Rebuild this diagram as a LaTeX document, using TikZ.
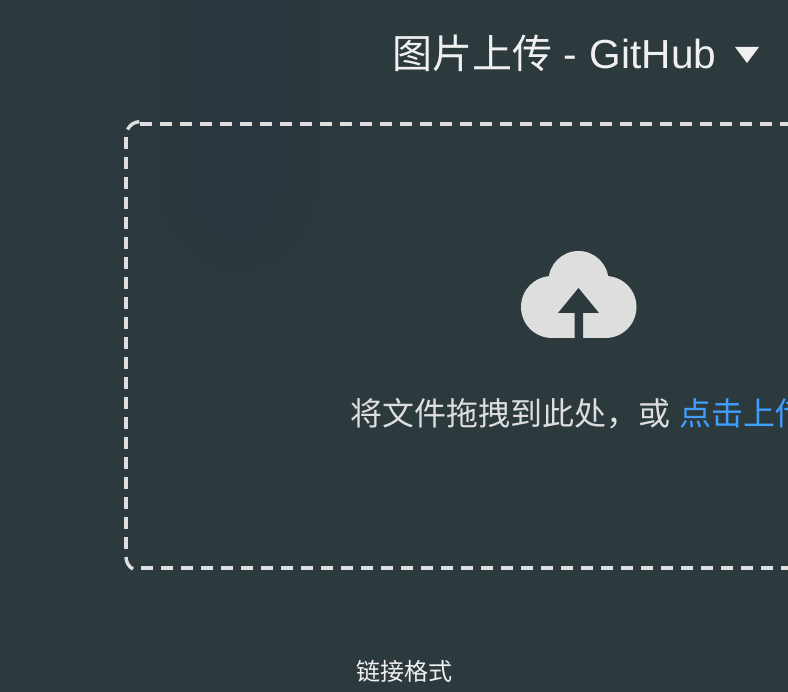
\documentclass[tikz,border=0pt]{standalone}
\usepackage{fontspec}
\setmainfont{Liberation Sans}
\newfontfamily\cjk{Noto Sans CJK SC}
\definecolor{panel}{HTML}{2C3A3D}
\definecolor{shade}{HTML}{2A363D}
\definecolor{ink}{HTML}{F0F0F0}
\definecolor{frame}{HTML}{DEDEDE}
\definecolor{link}{HTML}{409EFF}

\begin{document}
\begin{tikzpicture}[
  x=1pt,y=1pt,
  title/.style={anchor=base west,text=ink,inner sep=0pt,font=\fontsize{40.6}{44}\selectfont},
  hint/.style={anchor=base west,text=frame,inner sep=0pt,font=\cjk\fontsize{32}{36}\selectfont},
  caption/.style={anchor=base,text=ink,inner sep=0pt,font=\cjk\fontsize{24}{28}\selectfont},
  edge/.style={draw=frame,line width=3.4pt,dash pattern=on 12pt off 8pt},
  corner/.style={draw=frame,line width=3.4pt},
  emblem/.style={fill=shade,opacity=.4}
]
\path[use as bounding box,fill=panel] (0,0) rectangle (788,-692);

% Faint emblem behind the frame, nested outlines.
\fill[emblem] (110,0) -- (110,-220) .. controls (120,-300) and (190,-335) .. (235,-335)
  .. controls (300,-335) and (345,-280) .. (372,-190) -- (372,0) -- cycle;
\fill[emblem] (160,0) -- (160,-190) .. controls (165,-240) and (205,-270) .. (235,-270)
  .. controls (280,-270) and (312,-235) .. (316,-190) -- (316,0) -- cycle;
\fill[emblem] (185,0) -- (185,-170) .. controls (188,-215) and (215,-240) .. (235,-240)
  .. controls (260,-240) and (282,-215) .. (285,-170) -- (285,0) -- cycle;
\fill[emblem] (220,-140) .. controls (220,-125) and (250,-125) .. (250,-140)
  -- (250,-185) .. controls (250,-200) and (220,-200) .. (220,-185) -- cycle;

% Heading and its drop-down mark.
\node[title] (heading) at (392,-69) {{\cjk\fontsize{40}{44}\selectfont 图片上传} -\hspace{13pt}GitHub};
\fill[ink] (735,-47) -- (759,-47) -- (747,-63) -- cycle;

% Each side is dashed on its own, the corners are short arcs.
\draw[edge] (140,-124) -- (800,-124);
\draw[edge] (126,-137) -- (126,-549);
\draw[edge] (141,-568) -- (800,-568);
\draw[corner] (127.6,-129.5) arc[start angle=155,end angle=92,radius=13.5];
\draw[corner] (126,-557) arc[start angle=180,end angle=240,radius=14];

% Cloud with the arrow cut out of it.
\fill[frame] (552,-307) circle[radius=31] (605.5,-307) circle[radius=31]
  (578.5,-281) circle[radius=30];
\fill[frame] (552,-338) rectangle (605.5,-290);
\fill[panel] (578.5,-288) -- (599,-313) -- (583,-313) -- (583,-339)
  -- (574.5,-339) -- (574.5,-313) -- (558,-313) -- cycle;

\node[hint] (drophint) at (350,-425.5) {将文件拖拽到此处，或\hspace{9pt}\textcolor{link}{点击上传}};
\node[caption] (format) at (404,-680) {链接格式};
\end{tikzpicture}
\end{document}
